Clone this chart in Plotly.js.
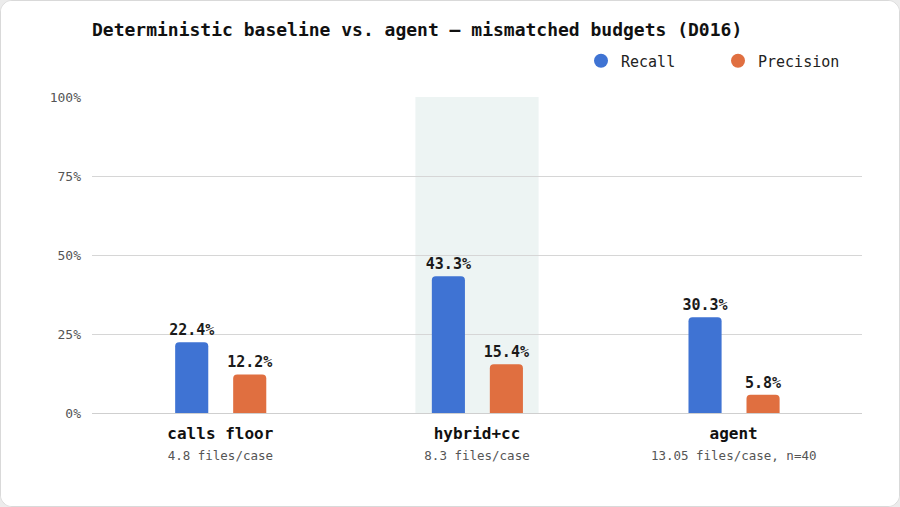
<!DOCTYPE html>
<html>
<head>
<meta charset="utf-8">
<script src="https://cdn.plot.ly/plotly-3.0.1.min.js"></script>
<style>
  html, body { margin: 0; padding: 0; background: #ececec; }
  #card {
    position: absolute; left: 0; top: 0;
    width: 898px; height: 505px;
    background: #fff;
    border: 1px solid #d9d9d9;
    border-radius: 12px;
    overflow: hidden;
  }
  #plot { width: 898px; height: 505px; }
</style>
</head>
<body>
<div id="card"><div id="plot"></div></div>
<script>
// chart data
const categories = ['calls floor', 'hybrid+cc', 'agent'];
const budgets = ['4.8 files/case', '8.3 files/case', '13.05 files/case, n=40'];
const recall = [22.4, 43.3, 30.3];
const precision = [12.2, 15.4, 5.8];
const yTicks = [0, 25, 50, 75, 100];
const highlighted = 1;  // index of the shaded category

const mono = 'DejaVu Sans Mono, monospace';
const blue = '#3f73d3';
const orange = '#e06f40';

const xIdx = categories.map((c, i) => i);
const tickText = categories.map((c, i) =>
    `<b>${c}</b><br><span style="font-size:12.5px;color:#555">${budgets[i]}</span>`);

function barTrace(name, values, color, offset) {
    return {
        type: 'bar',
        name: name,
        x: xIdx,
        y: values,
        width: 0.129,
        offset: offset,
        marker: { color: color, cornerradius: 4 },
        text: values.map(v => v.toFixed(1) + '%'),
        textposition: 'outside',
        constraintext: 'none',
        textfont: { family: mono, size: 15, color: '#1a1a1a', weight: 'bold' },
        cliponaxis: false,
        showlegend: false,
        hoverinfo: 'skip'
    };
}

// legend-only traces so the legend shows round markers
function legendTrace(name, color) {
    return {
        type: 'scatter',
        mode: 'markers',
        name: name,
        x: [null],
        y: [null],
        marker: { color: color, size: 14, symbol: 'circle' },
        showlegend: true
    };
}

const traces = [
    barTrace('Recall', recall, blue, -0.176),
    barTrace('Precision', precision, orange, 0.05),
    legendTrace('Recall', blue),
    legendTrace('Precision', orange)
];

const layout = {
    width: 898,
    height: 505,
    margin: { l: 91, r: 37, t: 96, b: 93 },
    paper_bgcolor: '#ffffff',
    plot_bgcolor: 'rgba(0,0,0,0)',
    font: { family: mono, color: '#222' },
    title: {
        text: '<b>Deterministic baseline vs. agent — mismatched budgets (D016)</b>',
        font: { family: mono, size: 18, color: '#111' },
        x: 91 / 898,
        xref: 'container',
        xanchor: 'left',
        y: 1 - 29 / 505,
        yref: 'container',
        yanchor: 'middle'
    },
    barmode: 'overlay',
    showlegend: true,
    legend: {
        orientation: 'h',
        x: 580 / 898,
        xref: 'container',
        xanchor: 'left',
        y: 1 - 60 / 505,
        yref: 'container',
        yanchor: 'middle',
        font: { family: mono, size: 15, color: '#222' },
        entrywidth: 92,
        entrywidthmode: 'pixels',
        bgcolor: 'rgba(0,0,0,0)'
    },
    xaxis: {
        range: [-0.5, 2.5],
        tickvals: xIdx,
        ticktext: tickText,
        tickfont: { family: mono, size: 16, color: '#111' },
        showgrid: false,
        zeroline: false,
        showline: false,
        ticks: '',
        ticklabelstandoff: 9,
        fixedrange: true
    },
    yaxis: {
        range: [0, 100],
        tickvals: yTicks,
        ticktext: yTicks.map(v => v + '%'),
        tickfont: { family: mono, size: 13, color: '#555' },
        gridcolor: '#d6d6d6',
        gridwidth: 1,
        zeroline: true,
        zerolinecolor: '#cfcfcf',
        zerolinewidth: 1,
        showline: false,
        ticks: '',
        ticklabelstandoff: 10,
        fixedrange: true
    },
    shapes: [{
        type: 'rect',
        xref: 'x',
        yref: 'y',
        x0: highlighted - 0.24,
        x1: highlighted + 0.24,
        y0: 0,
        y1: 100,
        fillcolor: '#edf4f3',
        line: { width: 0 },
        layer: 'below'
    }]
};

Plotly.newPlot('plot', traces, layout, { displayModeBar: false, staticPlot: true });
</script>
</body>
</html>
